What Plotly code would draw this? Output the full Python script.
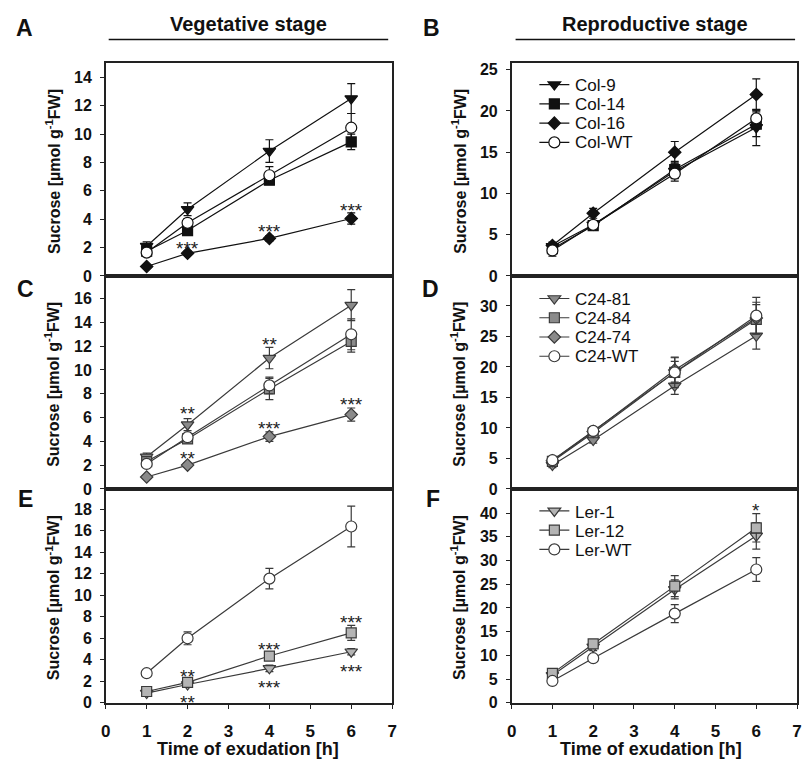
import plotly.graph_objects as go

# ---------------- data ----------------
time_h = [1, 2, 4, 6]

# Panel A: Col lines, vegetative stage
a_col9 = [2.1, 4.7, 8.8, 12.5];   a_col9_err = [0.3, 0.45, 0.8, 1.05]
a_col14 = [1.75, 3.2, 6.75, 9.45]; a_col14_err = [0.2, 0.3, 0.3, 0.55]
a_col16 = [0.67, 1.6, 2.65, 4.05]; a_col16_err = [0.1, 0.15, 0.2, 0.4]
a_colwt = [1.65, 3.75, 7.1, 10.45]; a_colwt_err = [0.2, 0.3, 0.6, 1.0]

# Panel B: Col lines, reproductive stage
b_col9 = [3.6, 6.2, 12.7, 18.0];  b_col9_err = [0.3, 0.4, 0.9, 2.2]
b_col14 = [3.3, 6.1, 12.9, 18.4]; b_col14_err = [0.3, 0.4, 1.0, 1.5]
b_col16 = [3.7, 7.6, 15.0, 22.0]; b_col16_err = [0.4, 0.6, 1.3, 1.9]
b_colwt = [3.1, 6.2, 12.4, 19.1]; b_colwt_err = [0.7, 0.4, 0.9, 1.0]

# Panel C: C24 lines, vegetative stage
c_81 = [2.7, 5.4, 11.0, 15.45]; c_81_err = [0.3, 0.5, 0.9, 1.3]
c_84 = [2.3, 4.2, 8.4, 12.4];   c_84_err = [0.2, 0.3, 0.9, 0.9]
c_74 = [1.0, 2.0, 4.4, 6.25];   c_74_err = [0.1, 0.2, 0.4, 0.55]
c_wt = [2.1, 4.35, 8.7, 13.0];  c_wt_err = [0.3, 0.3, 0.7, 1.3]

# Panel D: C24 lines, reproductive stage
d_81 = [3.9, 8.0, 16.9, 25.1]; d_81_err = [0.4, 0.5, 1.4, 2.2]
d_84 = [4.5, 9.2, 19.1, 27.8]; d_84_err = [0.4, 0.6, 1.8, 2.4]
d_74 = [4.6, 9.4, 19.5, 28.0]; d_74_err = [0.4, 0.6, 2.0, 2.6]
d_wt = [4.7, 9.5, 19.1, 28.4]; d_wt_err = [0.4, 0.7, 2.5, 3.0]

# Panel E: Ler lines, vegetative stage
e_1 = [0.9, 1.7, 3.2, 4.75];    e_1_err = [0.1, 0.2, 0.3, 0.3]
e_12 = [1.05, 1.9, 4.35, 6.5];  e_12_err = [0.1, 0.2, 0.3, 0.7]
e_wt = [2.75, 6.0, 11.55, 16.4]; e_wt_err = [0.2, 0.6, 0.95, 1.9]

# Panel F: Ler lines, reproductive stage
f_1 = [5.8, 11.8, 23.9, 35.2];  f_1_err = [0.5, 0.8, 2.0, 2.8]
f_12 = [6.2, 12.4, 24.6, 36.9]; f_12_err = [0.5, 0.8, 2.2, 3.0]
f_wt = [4.6, 9.4, 18.8, 28.1];  f_wt_err = [0.4, 0.6, 1.9, 2.5]

# significance marks (x, y, text)
stars_a = [(2, 2.3, "***"), (4, 3.5, "***"), (6, 5.0, "***")]
stars_c = [(2, 6.8, "**"), (4, 12.6, "**"), (2, 3.0, "**"), (4, 5.5, "***"), (6, 7.5, "***")]
stars_e = [(2, 2.9, "**"), (2, 0.45, "**"), (4, 5.4, "***"), (4, 1.85, "***"), (6, 7.9, "***"), (6, 3.4, "***")]
stars_f = [(6, 41.5, "*")]

yticks_a = [0, 2, 4, 6, 8, 10, 12, 14]
yticks_b = [0, 5, 10, 15, 20, 25]
yticks_c = [0, 2, 4, 6, 8, 10, 12, 14, 16]
yticks_d = [0, 5, 10, 15, 20, 25, 30]
yticks_e = [0, 2, 4, 6, 8, 10, 12, 14, 16, 18]
yticks_f = [0, 5, 10, 15, 20, 25, 30, 35, 40]
xticks = [0, 1, 2, 3, 4, 5, 6, 7]

# ---------------- styles ----------------
FONT = "Liberation Sans, Arial, sans-serif"
W, H = 807, 765
BLACK = "#111111"
DG = "#3a3a3a"
GRAY_C = "#8a8a8a"
GRAY_E = "#b4b4b4"
TXT = "#111111"

def sty(symbol, fill, edge, size):
    return dict(symbol=symbol, color=fill, size=size, line=dict(color=edge, width=1.2))

col_styles = {
    "Col-9": sty("triangle-down", BLACK, BLACK, 11),
    "Col-14": sty("square", BLACK, BLACK, 10),
    "Col-16": sty("diamond", BLACK, BLACK, 9.5),
    "Col-WT": sty("circle", "white", BLACK, 11),
}
c24_styles = {
    "C24-81": sty("triangle-down", GRAY_C, DG, 11),
    "C24-84": sty("square", GRAY_C, DG, 10),
    "C24-74": sty("diamond", GRAY_C, DG, 9.5),
    "C24-WT": sty("circle", "white", DG, 11),
}
ler_styles = {
    "Ler-1": sty("triangle-down", GRAY_E, DG, 11),
    "Ler-12": sty("square", GRAY_E, DG, 10),
    "Ler-WT": sty("circle", "white", DG, 11),
}

def px_y(p):
    return 1 - p / H

def px_x(p):
    return p / W

left_dom = [px_x(102), px_x(392)]
right_dom = [px_x(513), px_x(802)]
rows = [(62, 278), (278, 494), (494, 711)]

LEG_ROW = 19.25           # legend row pitch (px) from legend font size 12.5
LEG_FIRST = 16            # offset of first row centre below legend top (px)

panels = [
    dict(n="", xd=left_dom, row=0, yr=[0, 15], yt=yticks_a, legend=None,
         series=[("Col-9", a_col9, a_col9_err), ("Col-14", a_col14, a_col14_err),
                 ("Col-16", a_col16, a_col16_err), ("Col-WT", a_colwt, a_colwt_err)],
         styles=col_styles, color=BLACK, stars=stars_a),
    dict(n="2", xd=right_dom, row=0, yr=[0, 25.8], yt=yticks_b, legend=("legend", 69),
         series=[("Col-9", b_col9, b_col9_err), ("Col-14", b_col14, b_col14_err),
                 ("Col-16", b_col16, b_col16_err), ("Col-WT", b_colwt, b_colwt_err)],
         styles=col_styles, color=BLACK, stars=[]),
    dict(n="3", xd=left_dom, row=1, yr=[0, 17.9], yt=yticks_c, legend=None,
         series=[("C24-81", c_81, c_81_err), ("C24-84", c_84, c_84_err),
                 ("C24-74", c_74, c_74_err), ("C24-WT", c_wt, c_wt_err)],
         styles=c24_styles, color=DG, stars=stars_c),
    dict(n="4", xd=right_dom, row=1, yr=[0, 34.9], yt=yticks_d, legend=("legend2", 286),
         series=[("C24-81", d_81, d_81_err), ("C24-84", d_84, d_84_err),
                 ("C24-74", d_74, d_74_err), ("C24-WT", d_wt, d_wt_err)],
         styles=c24_styles, color=DG, stars=[]),
    dict(n="5", xd=left_dom, row=2, yr=[0, 19.9], yt=yticks_e, legend=None,
         series=[("Ler-1", e_1, e_1_err), ("Ler-12", e_12, e_12_err), ("Ler-WT", e_wt, e_wt_err)],
         styles=ler_styles, color=DG, stars=stars_e),
    dict(n="6", xd=right_dom, row=2, yr=[0, 45.1], yt=yticks_f, legend=("legend3", 501.5),
         series=[("Ler-1", f_1, f_1_err), ("Ler-12", f_12, f_12_err), ("Ler-WT", f_wt, f_wt_err)],
         styles=ler_styles, color=DG, stars=stars_f),
]

fig = go.Figure()
annotations = []
layout = {}
legends = {}

def leg(xp, yp):
    return dict(x=px_x(xp), y=px_y(yp), xanchor="left", yanchor="top",
                bgcolor="rgba(0,0,0,0)", borderwidth=0, itemwidth=30,
                tracegroupgap=0, font=dict(family=FONT, size=12.5, color=TXT))

for p in panels:
    xa = "x" + p["n"]
    ya = "y" + p["n"]
    top, bot = rows[p["row"]]
    bottom_row = p["row"] == 2
    for i, (name, vals, err) in enumerate(p["series"]):
        st = p["styles"][name]
        tr = dict(
            x=time_h, y=vals, name=name, mode="lines+markers",
            xaxis=xa, yaxis=ya,
            line=dict(color=p["color"], width=1.2),
            marker=st,
            error_y=dict(type="data", array=err, visible=True, color=p["color"],
                         thickness=1.2, width=4),
            showlegend=p["legend"] is not None,
        )
        if p["legend"] is not None:
            lname, ltop = p["legend"]
            tr["legend"] = lname
            # legend swatch comes from plotly's legend; label drawn as annotation at row pitch
            tr["name"] = " "
            tr["hovertext"] = name
            annotations.append(dict(
                x=px_x(575), y=px_y(ltop + LEG_FIRST + i * LEG_ROW), xref="paper", yref="paper",
                text=name, showarrow=False, xanchor="left", yanchor="middle",
                font=dict(family=FONT, size=17, color=TXT)))
        fig.add_trace(go.Scatter(**tr))
    if p["legend"] is not None:
        lname, ltop = p["legend"]
        legends[lname] = leg(536, ltop)
    for sx, sy, stxt in p["stars"]:
        annotations.append(dict(x=sx, y=sy, xref=xa, yref=ya, text=stxt, showarrow=False,
                                font=dict(family=FONT, size=19, color="#222222"),
                                xanchor="center", yanchor="middle", yshift=-5))
    xkey = "xaxis" + p["n"]
    ykey = "yaxis" + p["n"]
    layout[xkey] = dict(
        domain=p["xd"], anchor=ya, range=[0, 7], showgrid=False, zeroline=False,
        showline=True, linecolor="#222222", linewidth=1.5, mirror=True,
        ticks="outside" if bottom_row else "", ticklen=4, tickcolor="#222222",
        tickvals=xticks, showticklabels=bottom_row, ticklabelstandoff=8,
        tickfont=dict(family=FONT, size=17, color=TXT, weight="bold"),
    )
    layout[ykey] = dict(
        domain=[px_y(bot), px_y(top)], anchor=xa, range=p["yr"], showgrid=False, zeroline=False,
        showline=True, linecolor="#222222", linewidth=1.5, mirror=True,
        ticks="outside", ticklen=4, tickcolor="#222222", tickvals=p["yt"],
        ticklabelstandoff=5,
        tickfont=dict(family=FONT, size=16, color=TXT, weight="bold"),
    )
    # y-axis title
    tx = 48 if p["xd"] is left_dom else 459
    annotations.append(dict(
        x=px_x(tx), y=px_y((top + bot) / 2 + 2), xref="paper", yref="paper",
        text="Sucrose [µmol g<sup>-1</sup>FW]", textangle=-90, showarrow=False,
        xanchor="center", yanchor="middle",
        font=dict(family=FONT, size=16, color=TXT, weight="bold")))

# panel letters
letters = [("A", 20, 26), ("B", 432, 26), ("C", 21, 291), ("D", 431, 291), ("E", 21, 504), ("F", 433, 504)]
for t, lx, ly in letters:
    annotations.append(dict(x=px_x(lx), y=px_y(ly), xref="paper", yref="paper", text=t,
                            showarrow=False, xanchor="center", yanchor="middle",
                            font=dict(family=FONT, size=23, color=TXT, weight="bold")))

# stage headers
for t, cx in [("Vegetative stage", 247), ("Reproductive stage", 658)]:
    annotations.append(dict(x=px_x(cx), y=px_y(22), xref="paper", yref="paper", text=t,
                            showarrow=False, xanchor="center", yanchor="middle",
                            font=dict(family=FONT, size=20, color=TXT, weight="bold")))

# x titles
for cx in [246, 654]:
    annotations.append(dict(x=px_x(cx), y=px_y(758), xref="paper", yref="paper",
                            text="Time of exudation [h]", showarrow=False,
                            xanchor="center", yanchor="middle",
                            font=dict(family=FONT, size=18, color=TXT, weight="bold")))

shapes = [
    dict(type="line", xref="paper", yref="paper", x0=px_x(105), x1=px_x(388),
         y0=px_y(38), y1=px_y(38), line=dict(color=TXT, width=1.5)),
    dict(type="line", xref="paper", yref="paper", x0=px_x(517), x1=px_x(800),
         y0=px_y(38), y1=px_y(38), line=dict(color=TXT, width=1.5)),
]

fig.update_layout(
    width=W, height=H, margin=dict(l=0, r=0, t=0, b=0),
    paper_bgcolor="white", plot_bgcolor="white",
    annotations=annotations, shapes=shapes, hovermode="closest",
    **legends,
    **layout,
)

fig.write_html("out.html")
